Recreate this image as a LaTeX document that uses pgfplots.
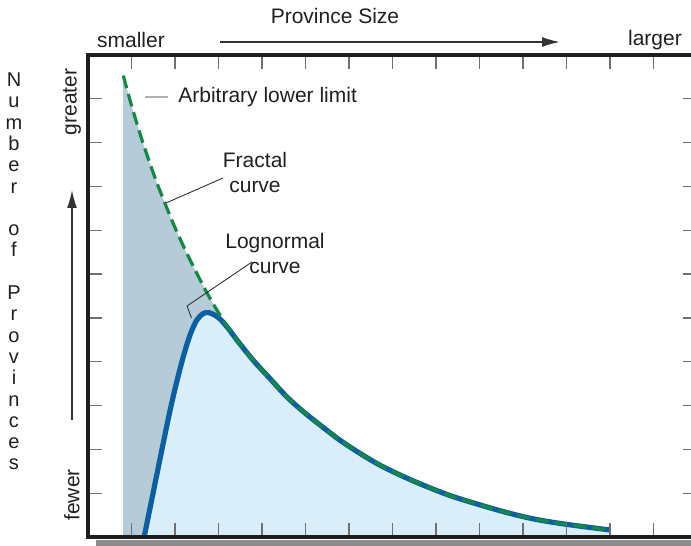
\documentclass[border=0pt]{standalone}
\usepackage{pgfplots}
\pgfplotsset{compat=1.18}
\usepackage{fontspec}
\setmainfont{Liberation Sans}
\usetikzlibrary{arrows.meta}
\definecolor{grayblue}{HTML}{B5CCD8}
\definecolor{lightblue}{HTML}{DAEEFA}
\definecolor{lognblue}{HTML}{0D5FA3}
\definecolor{fracgreen}{HTML}{138A43}
\definecolor{axisblack}{HTML}{1E1E1E}
\definecolor{tickgray}{HTML}{707070}
\definecolor{shadowgray}{HTML}{8C8C8C}
\definecolor{txt}{HTML}{231F20}
\definecolor{arrowgray}{HTML}{333333}

\pgfplotstableread{
x y
0.81 10.53
1.00 9.85
1.20 9.19
1.40 8.59
1.60 8.04
1.80 7.54
2.00 7.06
2.25 6.52
2.50 6.02
2.73 5.58
3.03 5.07
3.42 4.50
3.80 4.03
4.18 3.62
4.57 3.20
4.95 2.86
5.33 2.56
5.79 2.21
6.25 1.91
6.71 1.64
7.25 1.38
7.79 1.15
8.40 0.92
9.40 0.62
10.16 0.43
10.92 0.30
12.00 0.16
}\fractal

\pgfplotstableread{
x y
1.29 0
1.50 1.02
1.70 2.00
1.90 2.95
2.05 3.58
2.20 4.15
2.35 4.62
2.50 4.95
2.65 5.10
2.78 5.12
2.92 5.06
3.05 4.96
3.24 4.74
3.42 4.50
3.80 4.03
4.18 3.62
4.57 3.20
4.95 2.86
5.33 2.56
5.79 2.21
6.25 1.91
6.71 1.64
7.25 1.38
7.79 1.15
8.40 0.92
9.40 0.62
10.16 0.43
10.92 0.30
12.00 0.16
}\lognormal

\begin{document}
\begin{tikzpicture}[font=\fontsize{10.5}{12.5}\selectfont, text=txt]
\useasboundingbox (0,0) rectangle (345.5pt,273pt);
\clip (0,0) rectangle (345.5pt,273pt);
\fill[shadowgray] (48pt,0) rectangle (350pt,3.2pt);
\begin{axis}[
  at={(44pt,4.5pt)}, anchor=south west,
  width=304.5pt, height=241pt, scale only axis,
  xmin=0, xmax=14, ymin=0, ymax=11,
  xtick={1,...,13}, ytick={1,...,10},
  xticklabels={}, yticklabels={},
  tick align=inside, xtick pos=both, ytick pos=both,
  major tick length=7pt,
  tick style={draw=tickgray, line width=0.6pt},
  axis line style={line width=2pt, draw=axisblack},
  axis on top=true,
]
\addplot[fill=grayblue, draw=none, smooth, tension=0.5] table {\fractal} \closedcycle;
\addplot[fill=lightblue, draw=none, smooth, tension=0.5] table {\lognormal} \closedcycle;
\addplot[lognblue, line width=2.6pt, smooth, tension=0.5] table {\lognormal};
\addplot[fracgreen, line width=1.6pt, smooth, tension=0.5, dash pattern=on 6.5pt off 3pt] table {\fractal};
\end{axis}

% top labels
\node at (167.5pt,265pt) {Province Size};
\node at (65.5pt,253pt) {smaller};
\node at (327.5pt,253pt) {larger};
\draw[arrowgray, line width=0.8pt, -{Latex[length=9pt,width=5pt]}] (110pt,252pt) -- (280pt,252pt);

% left labels
\node[font=\fontsize{10}{10.65}\selectfont, align=center, inner sep=0] at (7pt,137.25pt)
  {N\\u\\m\\b\\e\\r\\\strut\\o\\f\\\strut\\P\\r\\o\\v\\i\\n\\c\\e\\s};
\node[rotate=90] at (36pt,222pt) {greater};
\node[rotate=90] at (36pt,25.5pt) {fewer};
\draw[arrowgray, line width=0.8pt, -{Latex[length=9pt,width=5pt]}] (36pt,63pt) -- (36pt,178pt);

% annotations
\draw[gray!60, line width=0.7pt] (72.5pt,224.5pt) -- (84pt,224.5pt);
\node[anchor=west, inner sep=0] at (89pt,224.5pt) {Arbitrary lower limit};
\node[align=center, inner sep=0] at (127.5pt,187pt) {Fractal\\curve};
\draw[arrowgray, line width=0.45pt] (83pt,171.5pt) -- (111.5pt,184pt);
\node[align=center, inner sep=0] at (137.5pt,146.5pt) {Lognormal\\curve};
\draw[arrowgray, line width=0.45pt] (95.75pt,114pt) -- (93.5pt,120pt) -- (126pt,142pt);
\end{tikzpicture}
\end{document}
